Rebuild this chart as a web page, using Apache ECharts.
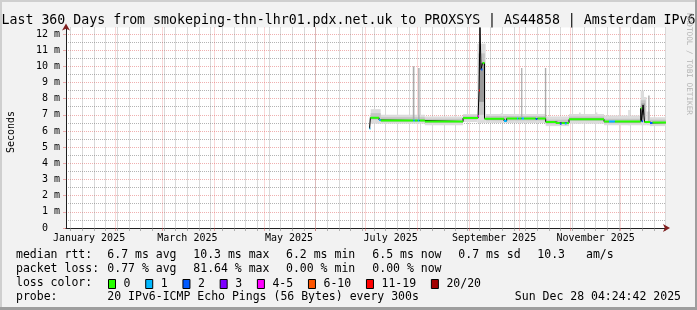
<!DOCTYPE html>
<html><head><meta charset="utf-8">
<script src="https://cdn.jsdelivr.net/npm/echarts@6/dist/echarts.min.js"></script>
<style>html,body{margin:0;padding:0;background:#f2f2f2}#c{width:697px;height:310px}</style>
</head><body><div id="c"></div>
<script>
// ================= DATA =================
const titleText = 'Last 360 Days from smokeping-thn-lhr01.pdx.net.uk to PROXSYS | AS44858 | Amsterdam IPv6';
const yAxisTitle = 'Seconds';
const watermark = 'RRDTOOL / TOBI OETIKER';
const rangeStart = '2025-01-02 04:24:42';
const rangeEnd = '2025-12-28 04:24:42';
const yMax = 12.4;
const yTicks = [0,1,2,3,4,5,6,7,8,9,10,11,12];
const yTickLabels = ['0  ','1 m','2 m','3 m','4 m','5 m','6 m','7 m','8 m','9 m','10 m','11 m','12 m'];
const monthLabelDates = ['2025-01-16','2025-03-16','2025-05-16','2025-07-16','2025-09-16','2025-11-16'];
const monthLabels = ['January 2025','March 2025','May 2025','July 2025','September 2025','November 2025'];
const monthStarts = ['2025-02-01','2025-03-01','2025-04-01','2025-05-01','2025-06-01','2025-07-01','2025-08-01','2025-09-01','2025-10-01','2025-11-01','2025-12-01'];
const firstWeekLine = '2025-01-05';
const lossClasses = ['0','1','2','3','4-5','6-10','11-19','20/20'];

// median rtt segments: [start, end, median (ms), loss class index, -1 = no colour]
const medianSegs = [
 ['2025-07-03 07:00','2025-07-03 20:00', 6.15, 1],
 ['2025-07-03 20:00','2025-07-09 00:00', 6.82, 0],
 ['2025-07-09 00:00','2025-07-10 00:00', 6.68, 1],
 ['2025-07-10 00:00','2025-07-29 12:00', 6.65, 0],
 ['2025-07-29 12:00','2025-07-30 12:00', 6.65, 1],
 ['2025-07-30 12:00','2025-08-01 06:00', 6.65, 0],
 ['2025-08-01 06:00','2025-08-02 06:00', 6.65, 1],
 ['2025-08-02 06:00','2025-08-05 12:00', 6.65, 0],
 ['2025-08-05 12:00','2025-08-28 10:00', 6.58, 0],
 ['2025-08-28 10:00','2025-09-06 10:00', 6.80, 0],
 ['2025-09-06 10:00','2025-09-07 00:00', 6.92, 4],
 ['2025-09-07 00:00','2025-09-07 14:00', 8.5, 6],
 ['2025-09-07 14:00','2025-09-08 05:00', 12.4, -1],
 ['2025-09-08 05:00','2025-09-09 02:00', 9.8, 2],
 ['2025-09-09 02:00','2025-09-10 07:00', 10.2, 0],
 ['2025-09-10 07:00','2025-09-22 00:00', 6.76, 0],
 ['2025-09-22 00:00','2025-09-23 14:00', 6.62, 1],
 ['2025-09-23 14:00','2025-09-29 19:00', 6.77, 0],
 ['2025-09-29 19:00','2025-09-30 12:00', 6.77, 1],
 ['2025-09-30 12:00','2025-10-02 12:00', 6.77, 0],
 ['2025-10-02 12:00','2025-10-04 00:00', 6.77, 1],
 ['2025-10-04 00:00','2025-10-11 00:00', 6.77, 0],
 ['2025-10-11 00:00','2025-10-12 00:00', 6.74, 2],
 ['2025-10-12 00:00','2025-10-17 00:00', 6.77, 0],
 ['2025-10-17 00:00','2025-10-23 00:00', 6.56, 0],
 ['2025-10-23 00:00','2025-10-25 12:00', 6.50, 0],
 ['2025-10-25 12:00','2025-10-26 12:00', 6.45, 2],
 ['2025-10-26 12:00','2025-10-28 12:00', 6.50, 0],
 ['2025-10-28 12:00','2025-10-29 12:00', 6.47, 1],
 ['2025-10-29 12:00','2025-10-31 00:00', 6.50, 0],
 ['2025-10-31 00:00','2025-11-21 00:00', 6.72, 0],
 ['2025-11-21 00:00','2025-11-24 00:00', 6.58, 0],
 ['2025-11-24 00:00','2025-11-27 12:00', 6.58, 1],
 ['2025-11-27 12:00','2025-12-13 00:00', 6.58, 0],
 ['2025-12-13 00:00','2025-12-13 14:00', 7.4, 0],
 ['2025-12-13 14:00','2025-12-14 10:00', 6.6, 2],
 ['2025-12-14 10:00','2025-12-15 07:00', 7.6, -1],
 ['2025-12-15 07:00','2025-12-18 14:00', 6.55, 0],
 ['2025-12-18 14:00','2025-12-20 00:00', 6.50, 2],
 ['2025-12-20 00:00','2025-12-28 04:24', 6.52, 0]
];

// smoke (ping spread) bands: [start, end, low (ms), high (ms)]
const smokeOuter = [
 ['2025-07-03 07:00','2025-07-04 00:00', 6.10, 6.90],
 ['2025-07-04 00:00','2025-07-10 00:00', 6.45, 7.35],
 ['2025-07-10 00:00','2025-08-05 12:00', 6.45, 7.00],
 ['2025-08-05 12:00','2025-08-28 10:00', 6.35, 6.90],
 ['2025-08-28 10:00','2025-09-06 00:00', 6.55, 7.05],
 ['2025-09-06 00:00','2025-09-11 00:00', 6.50, 11.40],
 ['2025-09-11 00:00','2025-10-17 00:00', 6.50, 7.05],
 ['2025-09-20 00:00','2025-09-21 00:00', 6.50, 7.10],
 ['2025-10-17 00:00','2025-10-31 00:00', 6.30, 6.90],
 ['2025-10-31 00:00','2025-11-21 00:00', 6.45, 7.05],
 ['2025-11-06 00:00','2025-11-07 00:00', 6.45, 7.15],
 ['2025-11-16 00:00','2025-11-17 00:00', 6.45, 7.15],
 ['2025-11-21 00:00','2025-12-13 00:00', 6.35, 6.95],
 ['2025-12-05 12:00','2025-12-06 12:00', 6.35, 7.30],
 ['2025-12-13 00:00','2025-12-15 00:00', 6.35, 8.50],
 ['2025-12-15 00:00','2025-12-16 12:00', 6.35, 8.10],
 ['2025-12-16 12:00','2025-12-18 12:00', 6.35, 7.20],
 ['2025-12-18 12:00','2025-12-28 04:24', 6.30, 6.85]
];
const smokeInner = [
 ['2025-07-04 00:00','2025-07-10 00:00', 6.70, 7.10],
 ['2025-07-10 00:00','2025-08-05 12:00', 6.55, 6.85],
 ['2025-08-05 12:00','2025-08-28 10:00', 6.50, 6.75],
 ['2025-08-28 10:00','2025-09-06 00:00', 6.70, 6.95],
 ['2025-09-06 12:00','2025-09-10 12:00', 7.00, 10.80],
 ['2025-09-11 00:00','2025-10-17 00:00', 6.65, 6.92],
 ['2025-10-17 00:00','2025-10-31 00:00', 6.42, 6.70],
 ['2025-10-31 00:00','2025-11-21 00:00', 6.62, 6.90],
 ['2025-11-21 00:00','2025-12-13 00:00', 6.48, 6.75],
 ['2025-12-13 00:00','2025-12-16 00:00', 6.70, 7.90],
 ['2025-12-18 12:00','2025-12-28 04:24', 6.42, 6.70]
];
const smokeCore = [
 ['2025-09-07 00:00','2025-09-10 00:00', 7.80, 10.20],
 ['2025-12-13 12:00','2025-12-15 12:00', 7.00, 7.70]
];
// single-interval outliers: [start, end, low, high]
const spikes = [
 ['2025-07-29 06:00','2025-07-30 06:00', 6.70, 10.00],
 ['2025-08-01 12:00','2025-08-02 08:00', 6.70, 9.90],
 ['2025-10-02 06:00','2025-10-03 00:00', 6.80, 9.90],
 ['2025-10-16 12:00','2025-10-17 08:00', 6.80, 9.90],
 ['2025-12-17 12:00','2025-12-18 08:00', 6.60, 8.20]
];

// legend text rows
const rowMedian = ['median rtt:', '6.7 ms avg', '10.3 ms max', '6.2 ms min', '6.5 ms now', '0.7 ms sd', '10.3', 'am/s'];
const rowLoss = ['packet loss:', '0.77 % avg', '81.64 % max', '0.00 % min', '0.00 % now'];
const rowColorLabel = 'loss color:';
const rowProbe = ['probe:', '20 IPv6-ICMP Echo Pings (56 Bytes) every 300s'];
const stampText = 'Sun Dec 28 04:24:42 2025';

// ================= STYLE / LAYOUT =================
const MONO = 'DejaVu Sans Mono';
const lossColors = ['#26ff00','#00b8ff','#0059ff','#7e00ff','#ff00ff','#ff5500','#ff0000','#a10000'];
const GRID_C = 'rgba(130,130,130,0.6)';
const MGRID_C = 'rgba(222,79,79,0.45)';
const ARROW_C = '#801f1f';
const AXIS_C = '#1f1f1f';
const colX = [16, 107.3, 193.3, 286, 372.3, 458.3, 537.3, 586];
const rowY = [254.9, 268.9, 282.9, 296.9];

function ts(s) { return new Date(s.replace(' ', 'T')).getTime(); }
const tStart = ts(rangeStart), tEnd = ts(rangeEnd);
const weekTicks = [];
for (let t = ts(firstWeekLine + ' 00:00'); t <= tEnd; t += 7 * 86400000) weekTicks.push(t);
const monthTicks = monthStarts.map(d => ts(d + ' 00:00'));
const labelTicks = monthLabelDates.map(d => ts(d + ' 00:00'));
const labelMap = {}; labelTicks.forEach((t, i) => labelMap[t] = monthLabels[i]);
const yHalf = yTicks.slice(0, -1).map(v => v + 0.5);

const chart = echarts.init(document.getElementById('c'), null, {renderer: 'canvas'});

function rectSeries(name, segs, color, z) {
  return {
    type: 'custom', name: name, xAxisIndex: 0, yAxisIndex: 0, z: z, silent: true,
    data: segs.map(s => [ts(s[0]), ts(s[1]), s[2], s[3]]),
    encode: {x: [0, 1], y: [2, 3]},
    renderItem: function (params, api) {
      const p1 = api.coord([api.value(0), api.value(3)]);
      const p2 = api.coord([api.value(1), api.value(2)]);
      return {type: 'rect', shape: {x: p1[0], y: p1[1], width: Math.max(p2[0] - p1[0], 1.2), height: p2[1] - p1[1]},
              style: {fill: color}};
    }
  };
}

const medianLine = [];
medianSegs.forEach(s => { medianLine.push([ts(s[0]), s[2]]); medianLine.push([ts(s[1]), s[2]]); });

const lossSeries = lossClasses.map((name, ci) => {
  const d = [];
  medianSegs.forEach(s => {
    if (s[3] === ci) { d.push([ts(s[0]), s[2]]); d.push([ts(s[1]), s[2]]); d.push([ts(s[1]), '-']); }
  });
  return {type: 'line', name: name, data: d, showSymbol: false, symbol: 'none', z: 6,
          color: lossColors[ci], lineStyle: {width: 2, color: lossColors[ci], cap: 'butt'},
          itemStyle: {color: lossColors[ci]}, connectNulls: false, silent: true};
});

const xBase = {type: 'value', min: tStart, max: tEnd, gridIndex: 0, position: 'bottom', scale: true};
const yBase = {type: 'value', min: 0, max: yMax, gridIndex: 0, position: 'left'};
const off = {show: false};
const bare = {axisLine: off, axisTick: off, splitLine: off, axisLabel: off};

const labelFont = {fontFamily: MONO, fontSize: 10, color: '#000'};

const graphic = [
  {type: 'rect', shape: {x: 0, y: 0, width: 697, height: 2}, style: {fill: '#cfcfcf'}, silent: true},
  {type: 'rect', shape: {x: 0, y: 0, width: 2, height: 310}, style: {fill: '#cfcfcf'}, silent: true},
  {type: 'rect', shape: {x: 695, y: 0, width: 2, height: 310}, style: {fill: '#9e9e9e'}, silent: true},
  {type: 'rect', shape: {x: 0, y: 307, width: 697, height: 3}, style: {fill: '#9e9e9e'}, silent: true},
  {type: 'text', x: 348.5, y: 20.5, style: {text: titleText, font: '13.25px "' + MONO + '"', fill: '#000', align: 'center', verticalAlign: 'middle'}},
  {type: 'text', x: 689, y: 64, rotation: -Math.PI / 2, style: {text: watermark, font: '7.7px "' + MONO + '"', fill: '#b4b4b4', align: 'center', verticalAlign: 'middle'}},
  {type: 'text', x: 11, y: 132, rotation: Math.PI / 2, style: {text: yAxisTitle, font: '10px "' + MONO + '"', fill: '#000', align: 'center', verticalAlign: 'middle'}},
  {type: 'text', x: 681, y: rowY[3], style: {text: stampText, font: '11.5px "' + MONO + '"', fill: '#000', align: 'right', verticalAlign: 'middle'}},
  {type: 'text', x: colX[0], y: rowY[2], style: {text: rowColorLabel, font: '11.5px "' + MONO + '"', fill: '#000', align: 'left', verticalAlign: 'middle'}}
];
[rowMedian, rowLoss, rowProbe].forEach((row, ri) => {
  const yy = rowY[ri === 2 ? 3 : ri];
  row.forEach((txt, ci) => {
    graphic.push({type: 'text', x: colX[ci], y: yy, style: {text: txt, font: '11.5px "' + MONO + '"', fill: '#000', align: 'left', verticalAlign: 'middle'}});
  });
});

const option = {
  animation: false,
  backgroundColor: '#f2f2f2',
  grid: {left: 66, width: 600, top: 27.5, height: 200.5, show: true, backgroundColor: '#fff', borderWidth: 0, containLabel: false},
  legend: {
    left: 108, top: 278, itemWidth: 7, itemHeight: 9, itemGap: 14.8, icon: 'rect', padding: 0,
    selectedMode: false, data: lossClasses,
    itemStyle: {borderColor: '#000', borderWidth: 1},
    textStyle: {fontFamily: MONO, fontSize: 11.5, color: '#000', padding: [0, 0, 0, 3]}
  },
  xAxis: [
    Object.assign({}, xBase, bare),
    Object.assign({}, xBase, {
      axisLine: off,
      axisTick: {show: true, customValues: weekTicks, length: 3, lineStyle: {color: GRID_C}},
      splitLine: {show: true, lineStyle: {color: GRID_C, type: [1, 1], width: 1}},
      axisLabel: Object.assign({show: true, customValues: labelTicks, margin: 5, formatter: v => labelMap[v] || ''}, labelFont)
    }),
    Object.assign({}, xBase, {
      axisLine: off,
      axisTick: {show: true, customValues: monthTicks, length: 3, lineStyle: {color: MGRID_C}},
      splitLine: {show: true, lineStyle: {color: MGRID_C, type: [1, 1], width: 1}},
      axisLabel: off
    }),
    Object.assign({}, xBase, {
      axisLine: {show: true, symbol: ['none', 'arrow'], symbolSize: [6, 7], symbolOffset: [0, 4], lineStyle: {color: ARROW_C, width: 1}},
      axisTick: off, splitLine: off, axisLabel: off
    }),
    Object.assign({}, xBase, {
      axisLine: {show: true, lineStyle: {color: AXIS_C, width: 1}},
      axisTick: off, splitLine: off, axisLabel: off
    })
  ],
  yAxis: [
    Object.assign({}, yBase, bare),
    Object.assign({}, yBase, {
      axisLine: off,
      axisTick: {show: true, customValues: yHalf, length: 0, lineStyle: {color: 'rgba(0,0,0,0)'}},
      splitLine: {show: true, lineStyle: {color: GRID_C, type: [1, 1], width: 1}},
      axisLabel: off
    }),
    Object.assign({}, yBase, {
      axisLine: off,
      axisTick: {show: true, customValues: yTicks, length: 3, lineStyle: {color: MGRID_C}},
      splitLine: {show: true, lineStyle: {color: MGRID_C, type: [1, 1], width: 1}},
      axisLabel: Object.assign({show: true, customValues: yTicks, margin: 6, formatter: (v) => yTickLabels[yTicks.indexOf(v)] || ''}, labelFont)
    }),
    Object.assign({}, yBase, {
      axisLine: {show: true, symbol: ['none', 'arrow'], symbolSize: [6, 7], symbolOffset: [0, 4], lineStyle: {color: ARROW_C, width: 1}},
      axisTick: off, splitLine: off, axisLabel: off
    }),
    Object.assign({}, yBase, {
      axisLine: {show: true, lineStyle: {color: AXIS_C, width: 1}},
      axisTick: off, splitLine: off, axisLabel: off
    })
  ],
  graphic: graphic,
  series: [
    rectSeries('smokeOuter', smokeOuter, '#dcdcdc', 2),
    rectSeries('smokeInner', smokeInner, '#c4c4c4', 3),
    rectSeries('smokeCore', smokeCore, '#9a9a9a', 4),
    rectSeries('spikes', spikes, '#ababab', 4),
    {type: 'line', name: 'median', data: medianLine, showSymbol: false, symbol: 'none', z: 5, silent: true,
     lineStyle: {width: 1, color: '#000'}, color: '#000'}
  ].concat(lossSeries)
};
chart.setOption(option);
</script>
</body></html>
